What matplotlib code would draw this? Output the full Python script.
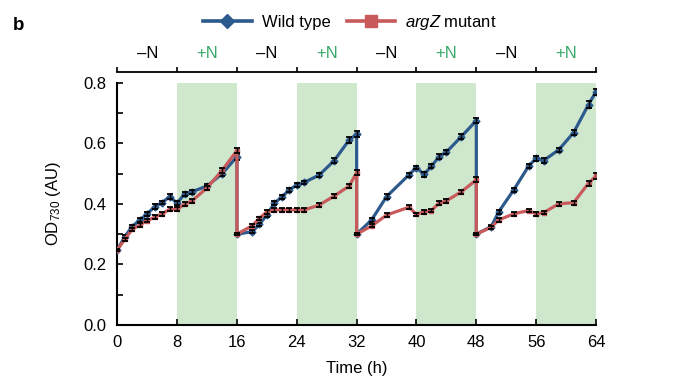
import matplotlib
matplotlib.use("Agg")
import matplotlib.pyplot as plt
from matplotlib.lines import Line2D
from matplotlib.ticker import MultipleLocator
import matplotlib.transforms as mtransforms

plt.rcParams['font.family'] = ['Liberation Sans', 'DejaVu Sans']
plt.rcParams['mathtext.fontset'] = 'custom'
plt.rcParams['mathtext.rm'] = 'Liberation Sans'
plt.rcParams['mathtext.it'] = 'Liberation Sans:italic'
plt.rcParams['mathtext.default'] = 'regular'

# ---- data ----
time_h = [0, 1, 2, 3, 4, 5, 6, 7, 8, 9, 10, 12, 14, 16,
          16, 18, 19, 20, 21, 22, 23, 24, 25, 27, 29, 31, 32,
          32, 34, 36, 39, 40, 41, 42, 43, 44, 46, 48,
          48, 50, 51, 53, 55, 56, 57, 59, 61, 63, 64]

wild_type = [0.248, 0.292, 0.325, 0.347, 0.367, 0.391, 0.404, 0.424, 0.402, 0.433, 0.440, 0.459, 0.499, 0.556,
             0.300, 0.308, 0.332, 0.364, 0.402, 0.423, 0.446, 0.462, 0.471, 0.495, 0.543, 0.611, 0.630,
             0.300, 0.347, 0.424, 0.496, 0.520, 0.497, 0.524, 0.555, 0.571, 0.622, 0.675,
             0.300, 0.325, 0.374, 0.446, 0.525, 0.550, 0.543, 0.578, 0.635, 0.728, 0.770]

argz_mutant = [0.248, 0.283, 0.316, 0.330, 0.345, 0.356, 0.367, 0.382, 0.382, 0.399, 0.410, 0.453, 0.510, 0.576,
               0.300, 0.327, 0.352, 0.374, 0.380, 0.380, 0.380, 0.380, 0.380, 0.396, 0.426, 0.459, 0.503,
               0.300, 0.327, 0.363, 0.389, 0.365, 0.374, 0.378, 0.402, 0.410, 0.440, 0.479,
               0.300, 0.323, 0.347, 0.367, 0.378, 0.367, 0.371, 0.400, 0.404, 0.468, 0.492]

wild_err = [0.004, 0.006, 0.005, 0.006, 0.006, 0.007, 0.006, 0.007, 0.006, 0.007, 0.006, 0.007, 0.008, 0.010,
            0.004, 0.005, 0.006, 0.006, 0.007, 0.006, 0.006, 0.007, 0.006, 0.007, 0.008, 0.009, 0.010,
            0.004, 0.006, 0.007, 0.007, 0.006, 0.007, 0.007, 0.008, 0.008, 0.009, 0.008,
            0.004, 0.006, 0.007, 0.007, 0.008, 0.007, 0.007, 0.008, 0.009, 0.010, 0.009]

argz_err = [0.004, 0.005, 0.005, 0.006, 0.006, 0.006, 0.006, 0.006, 0.006, 0.006, 0.007, 0.007, 0.008, 0.009,
            0.004, 0.005, 0.006, 0.006, 0.006, 0.006, 0.006, 0.006, 0.006, 0.007, 0.007, 0.008, 0.009,
            0.004, 0.005, 0.006, 0.006, 0.006, 0.006, 0.006, 0.007, 0.007, 0.007, 0.008,
            0.004, 0.005, 0.006, 0.006, 0.006, 0.006, 0.006, 0.007, 0.007, 0.008, 0.009]

plus_n_periods = [(8, 16), (24, 32), (40, 48), (56, 64)]
phase_centers = [4, 12, 20, 28, 36, 44, 52, 60]
phase_labels = ['–N', '+N', '–N', '+N', '–N', '+N', '–N', '+N']
x_ticks = [0, 8, 16, 24, 32, 40, 48, 56, 64]
y_ticks = [0.0, 0.2, 0.4, 0.6, 0.8]

BLUE = '#2c5a8c'
RED = '#c85a5c'
GREEN_BAND = '#cfe7cd'
GREEN_TXT = '#3aa86a'
FS = 12

W, H = 676, 376
fig = plt.figure(figsize=(W / 100, H / 100), dpi=100)

x0, x1 = 117.3, 596.0
y0, y1 = 325.0, 82.7
ax = fig.add_axes([x0 / W, 1 - y0 / H, (x1 - x0) / W, (y0 - y1) / H])

for a, b in plus_n_periods:
    ax.axvspan(a, b, color=GREEN_BAND, lw=0, zorder=0)

ax.plot(time_h, wild_type, color=BLUE, lw=2.3, marker='D', ms=3.5, zorder=3)
ax.errorbar(time_h, wild_type, yerr=wild_err, fmt='none', ecolor='black',
            elinewidth=1.0, capsize=2.2, capthick=1.3, zorder=4)
ax.plot(time_h, argz_mutant, color=RED, lw=2.3, marker='s', ms=3.5, zorder=5)
ax.errorbar(time_h, argz_mutant, yerr=argz_err, fmt='none', ecolor='black',
            elinewidth=1.0, capsize=2.2, capthick=1.3, zorder=6)

ax.set_xlim(0, 64)
ax.set_ylim(0, 0.8)
ax.set_xticks(x_ticks)
ax.set_yticks(y_ticks)
ax.set_yticklabels([f'{v:.1f}' for v in y_ticks])
ax.yaxis.set_minor_locator(MultipleLocator(0.1))
for s in ['top', 'right']:
    ax.spines[s].set_visible(False)
for s in ['left', 'bottom']:
    ax.spines[s].set_linewidth(1.5)
ax.tick_params(axis='both', which='both', direction='in', length=4, width=1.2,
               labelsize=FS, pad=7)
ax.tick_params(axis='y', pad=8)
ax.set_xlabel('Time (h)', fontsize=FS, labelpad=8)
ax.set_ylabel('OD$_{730}$ (AU)', fontsize=FS)
ax.yaxis.set_label_coords(-0.113, 0.5)

# top bracket for -N / +N phases
by = 71.7
bax = fig.add_axes([x0 / W, 1 - by / H, (x1 - x0) / W, 0.02])
bax.set_xlim(0, 64)
bax.set_ylim(0, 1)
bax.patch.set_visible(False)
for s in ['top', 'right', 'left']:
    bax.spines[s].set_visible(False)
bax.spines['bottom'].set_linewidth(1.3)
bax.set_xticks(x_ticks)
bax.set_yticks([])
bax.tick_params(axis='x', direction='in', length=3.5, width=1.2, labelbottom=False)

trans = mtransforms.blended_transform_factory(bax.transData, fig.transFigure)
for xc, lab in zip(phase_centers, phase_labels):
    bax.text(xc, 1 - 53 / H, lab, transform=trans, ha='center', va='center',
             fontsize=FS, color=(GREEN_TXT if lab.startswith('+') else 'black'))

# legend
handles = [Line2D([], [], color=BLUE, lw=2.6, marker='D', ms=7.5),
           Line2D([], [], color=RED, lw=2.6, marker='s', ms=8)]
fig.legend(handles, ['Wild type', r'$\it{argZ}$ mutant'], loc='center',
           bbox_to_anchor=(350 / W, 1 - 22.5 / H), ncol=2, frameon=False,
           fontsize=FS, handlelength=2.9, handletextpad=0.6, columnspacing=1.0,
           borderpad=0.0)

fig.text(12.5 / W, 1 - 25 / H, 'b', fontsize=13.5, fontweight='bold', ha='left', va='center')

fig.savefig('out.png', dpi=100)
